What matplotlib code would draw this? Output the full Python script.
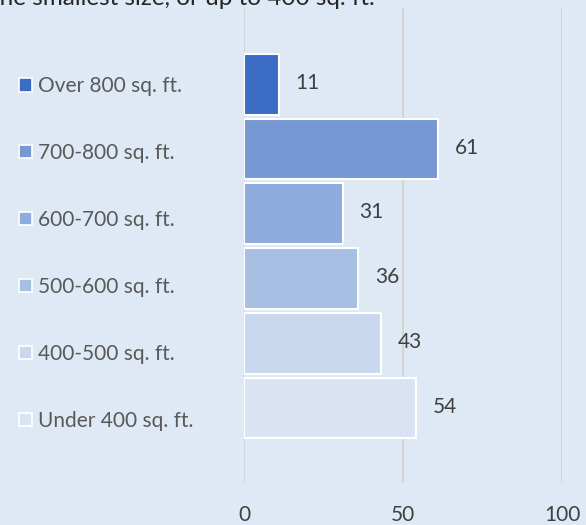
import matplotlib.pyplot as plt
from matplotlib.patches import Patch

categories = ['Over 800 sq. ft.', '700-800 sq. ft.', '600-700 sq. ft.',
              '500-600 sq. ft.', '400-500 sq. ft.', 'Under 400 sq. ft.']
values = [11, 61, 31, 36, 43, 54]
colors = ['#3B6CC4', '#7699D4', '#8FAADC', '#A6BFE2', '#C9D8EE', '#DAE3F3']
xticks = [0, 50, 100]
title_tail = 'the smallest size, or up to 400 sq. ft.'

bg = '#DEE9F5'
fs = 15
plt.rcParams['font.family'] = ['Lato', 'DejaVu Sans']

fig = plt.figure(figsize=(5.86, 5.25), dpi=100, facecolor=bg)
# axes: x 244..562 px, y 8..483 px
ax = fig.add_axes([244 / 586, 1 - 483 / 525, (562 - 244) / 586, (483 - 8) / 525])
ax.set_facecolor(bg)

for i, (cat, val, col) in enumerate(zip(categories, values, colors)):
    ax.barh(i, val, height=0.94, color=col, edgecolor='white', linewidth=1.5,
            label=cat, zorder=3)
    ax.annotate(str(val), (val, i), xytext=(12, 1), textcoords='offset points',
                va='center', ha='left', fontsize=fs, color='#404040')

ax.set_xlim(0, 100)
ax.set_ylim(5.5 + 0.66, -0.5 - 0.68)
ax.set_xticks(xticks)
ax.set_yticks([])
ax.tick_params(axis='x', length=0, pad=16, labelsize=fs, labelcolor='#404040')
for s in ax.spines.values():
    s.set_visible(False)
ax.grid(axis='x', color='#D4D4D4', linewidth=1.5, zorder=0)

handles = [Patch(facecolor=c, edgecolor='white', linewidth=1.2) for c in colors]
fig.legend(handles, categories, loc='upper left', bbox_to_anchor=(0.019, 1 - 68 / 525),
           frameon=False, fontsize=fs, labelcolor='#595959', handlelength=0.6,
           handleheight=0.6, handletextpad=0.3, labelspacing=2.25, borderaxespad=0)

fig.text(-0.015, 1 - 5 / 525, title_tail, fontsize=17.5, color='#262626',
         ha='left', va='baseline')

fig.savefig('out.png', dpi=100, facecolor=bg)
